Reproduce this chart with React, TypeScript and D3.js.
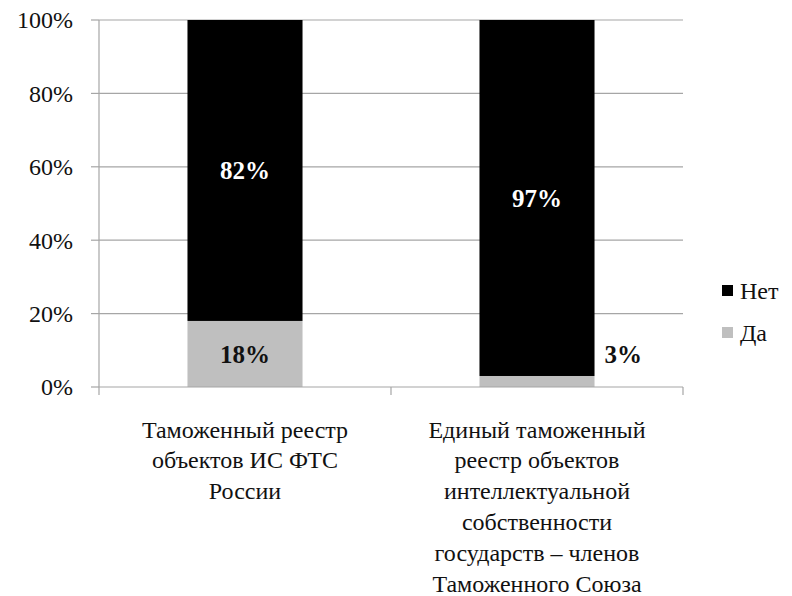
import React from 'react';
import * as d3 from 'd3';

const categories = [
  ['Таможенный реестр', 'объектов ИС  ФТС', 'России'],
  ['Единый таможенный', 'реестр объектов', 'интеллектуальной', 'собственности', 'государств – членов', 'Таможенного Союза'],
];
const seriesNames = ['Да', 'Нет'];
const yesValues = [18, 3];
const noValues = [82, 97];
const yTicks = [0, 20, 40, 60, 80, 100];

const colors: Record<string, string> = { 'Да': '#bfbfbf', 'Нет': '#000000' };
const tf = { fontFamily: 'Liberation Serif' };

const App = () => {
  const width = 792;
  const height = 596;
  const margin = { top: 20, left: 99, right: 109, bottom: 209 };
  const plotW = width - margin.left - margin.right;
  const plotH = height - margin.top - margin.bottom;

  const x = d3.scaleBand<number>()
    .domain(categories.map((_, i) => i))
    .range([0, plotW])
    .paddingInner(0.606)
    .paddingOuter(0.303);

  const y = d3.scaleLinear().domain([0, 100]).range([plotH, 0]);

  const rows = categories.map((_, i) => ({ i, 'Да': yesValues[i], 'Нет': noValues[i] }));
  const stacked = d3.stack<any>().keys(seriesNames)(rows);

  const gridColor = '#a6a6a6';

  return (
    <svg width={width} height={height} style={{ display: 'block', position: 'absolute', left: 0, top: 0, background: '#fff' }}>
      <g transform={`translate(${margin.left},${margin.top})`}>
        {yTicks.map(t => (
          <g key={t}>
            {t > 0 && <line x1={0} x2={plotW} y1={y(t)} y2={y(t)} stroke={gridColor} strokeWidth={1.2} />}
            <line x1={-8} x2={0} y1={y(t)} y2={y(t)} stroke={gridColor} strokeWidth={1.2} />
            <text x={-26} y={y(t)} dy="0.35em" textAnchor="end" fontSize={24} fill="#111" style={tf}>{t}%</text>
          </g>
        ))}
        {stacked.map(layer => (
          <g key={layer.key} fill={colors[layer.key]}>
            {layer.map((d, i) => (
              <rect key={i} x={x(i)} width={x.bandwidth()} y={y(d[1])} height={y(d[0]) - y(d[1])} />
            ))}
          </g>
        ))}
        {/* axes */}
        <line x1={0} x2={0} y1={0} y2={plotH + 8} stroke={gridColor} strokeWidth={1.2} />
        <line x1={0} x2={plotW} y1={plotH} y2={plotH} stroke={gridColor} strokeWidth={1.2} />
        {[1, 2].map(k => (
          <line key={k} x1={x.step() * k} x2={x.step() * k} y1={plotH} y2={plotH + 8} stroke={gridColor} strokeWidth={1.2} />
        ))}
        {/* value labels */}
        {stacked.map(layer => layer.map((d, i) => {
          const v = d[1] - d[0];
          const cx = (x(i) ?? 0) + x.bandwidth() / 2;
          const small = v < 5;
          return (
            <text key={layer.key + i}
              x={small ? (x(i) ?? 0) + x.bandwidth() + 10 : cx}
              y={small ? y(d[1]) - 22 : y((d[0] + d[1]) / 2)}
              dy="0.35em"
              textAnchor={small ? 'start' : 'middle'}
              fontSize={25} fontWeight="bold" style={tf}
              fill={layer.key === 'Нет' ? '#fff' : '#111'}>{v}%</text>
          );
        }))}
        {/* category labels */}
        {categories.map((lines, i) => (
          <text key={i} x={(x(i) ?? 0) + x.bandwidth() / 2} y={plotH + 45} textAnchor="middle" fontSize={24} fill="#111" style={tf}>
            {lines.map((l, j) => (
              <tspan key={j} x={(x(i) ?? 0) + x.bandwidth() / 2} dy={j === 0 ? 0 : 30.8} dominantBaseline="middle">{l}</tspan>
            ))}
          </text>
        ))}
      </g>
      {/* legend */}
      <g>
        {['Нет', 'Да'].map((name, k) => (
          <g key={name} transform={`translate(722,${285 + k * 42})`}>
            <rect width={11} height={11} fill={colors[name]} />
            <text x={18} y={5.5} dy="0.35em" fontSize={24} fill="#111" style={tf}>{name}</text>
          </g>
        ))}
      </g>
    </svg>
  );
};

export default App;
